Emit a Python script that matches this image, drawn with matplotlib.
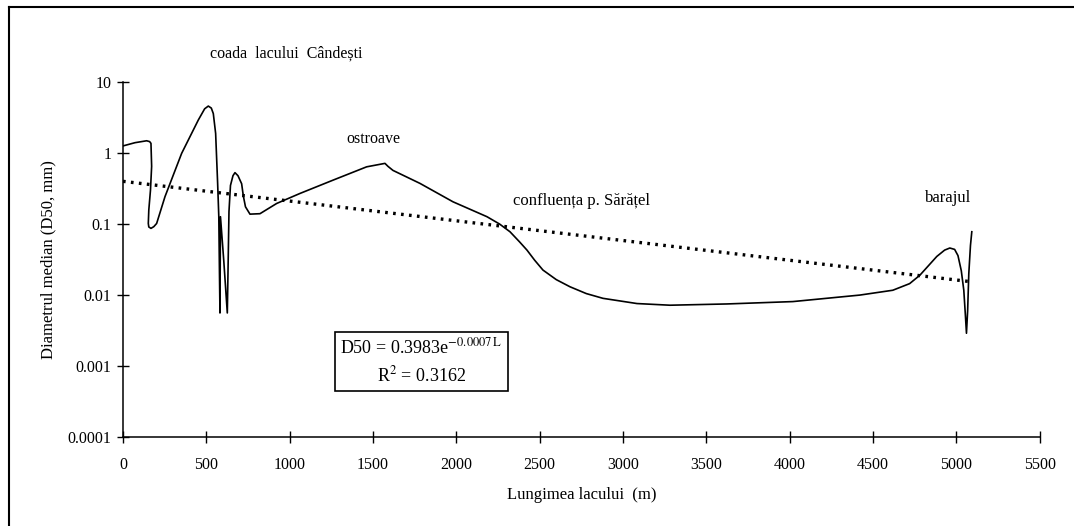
import numpy as np
import matplotlib.pyplot as plt
from matplotlib.lines import Line2D

plt.rcParams['font.family'] = ['Liberation Serif', 'DejaVu Serif']
plt.rcParams['mathtext.fontset'] = 'stix'

# median diameter along the lake
L = [0, 72, 142, 160, 168, 172, 165, 155, 152, 155, 168, 185, 202, 252, 352, 452, 490, 512,
     530, 542, 556, 568, 575, 579, 582, 585, 605, 626, 630, 636, 645, 660, 672, 690, 712,
     722, 735, 762, 822, 922, 1062, 1262, 1462, 1572, 1590, 1620, 1782, 1980, 2100, 2184,
     2260, 2322, 2380, 2424, 2470, 2520, 2600, 2682, 2780, 2880, 3084, 3282, 3623, 4019,
     4421, 4619, 4720, 4781, 4883, 4930, 4961, 4990, 5010, 5030, 5045, 5055, 5061, 5068,
     5075, 5085, 5093]
D50 = [1.26, 1.40, 1.49, 1.45, 1.37, 0.65, 0.30, 0.158, 0.102, 0.091, 0.087, 0.092, 0.102,
       0.243, 0.99, 2.92, 4.2, 4.59, 4.3, 3.6, 1.89, 0.374, 0.127, 0.02, 0.0056, 0.127, 0.03,
       0.0056, 0.02, 0.15, 0.35, 0.48, 0.53, 0.48, 0.37, 0.25, 0.175, 0.138, 0.14, 0.195,
       0.27, 0.417, 0.64, 0.716, 0.65, 0.57, 0.374, 0.206, 0.155, 0.127, 0.10, 0.078, 0.056,
       0.043, 0.031, 0.0225, 0.0165, 0.0131, 0.0105, 0.0090, 0.0076, 0.0072, 0.0075, 0.0081,
       0.010, 0.0117, 0.0145, 0.019, 0.035, 0.043, 0.046, 0.044, 0.036, 0.022, 0.0117,
       0.005, 0.0029, 0.006, 0.02, 0.05, 0.078]

# exponential trend line ends, D50 = 0.3983 e^(-0.0007 L)
trend_L = [0, 5080]
trend_D = [0.40, 0.0155]

xticks = np.arange(0, 5501, 500)
yticks = [0.0001, 0.001, 0.01, 0.1, 1, 10]
ylabels = ['0.0001', '0.001', '0.01', '0.1', '1', '10']

fig = plt.figure(figsize=(10.74, 5.26), dpi=100)
ax = fig.add_axes([0.1145, 0.169, 0.8535, 0.675])

ax.plot(L, D50, color='black', lw=1.2)
ax.plot(trend_L, trend_D, color='black', lw=2.4, linestyle=(0, (0.8, 1.6)))

ax.set_yscale('log')
ax.set_xlim(0, 5500)
ax.set_ylim(0.0001, 10)
ax.set_xticks(xticks)
ax.set_xticklabels([str(v) for v in xticks])
ax.set_yticks(yticks)
ax.set_yticklabels(ylabels)
ax.minorticks_off()
ax.tick_params(axis='both', direction='inout', length=9, width=1, labelsize=11.5)
ax.tick_params(axis='x', pad=10)
ax.tick_params(axis='y', pad=4)
for s in ['top', 'right']:
    ax.spines[s].set_visible(False)
for s in ['left', 'bottom']:
    ax.spines[s].set_linewidth(1.1)

ax.set_xlabel('Lungimea lacului  (m)', fontsize=12, labelpad=10)
ax.set_ylabel('Diametrul median (D50, mm)', fontsize=12, labelpad=8)

# place labels
ax.text(980, 25, 'coada  lacului  Cândești', fontsize=11.5, ha='center', va='center')
ax.text(1500, 1.6, 'ostroave', fontsize=11.5, ha='center', va='center')
ax.text(2750, 0.21, 'confluența p. Sărățel', fontsize=12, ha='center', va='center')
ax.text(4950, 0.23, 'barajul', fontsize=12, ha='center', va='center')

# equation box
ax.text(1790, 0.00115, 'D50 = 0.3983e$^{\\mathrm{-0.0007\\,L}}$\nR$^{\\mathrm{2}}$ = 0.3162',
        fontsize=13, ha='center', va='center', linespacing=1.5,
        bbox=dict(boxstyle='square,pad=0.3', facecolor='white', edgecolor='black', lw=1.2))

# outer frame of the scanned figure
fig.add_artist(Line2D([0.008, 0.008], [0.0, 0.987], color='black', lw=1.5, transform=fig.transFigure))
fig.add_artist(Line2D([0.008, 1.0], [0.987, 0.987], color='black', lw=1.5, transform=fig.transFigure))

fig.savefig('out.png', dpi=100)
